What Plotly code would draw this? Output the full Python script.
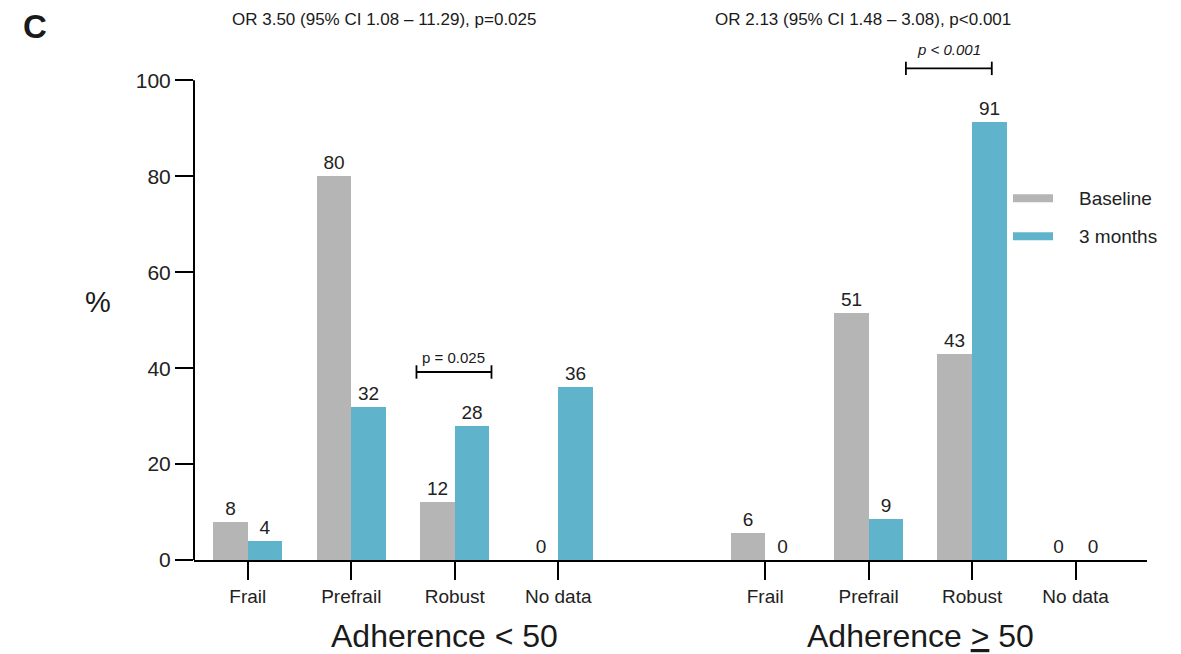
import plotly.graph_objects as go

# ---- data ----
categories = ["Frail", "Prefrail", "Robust", "No data"]
cat_pos_low = [0, 1, 2, 3]
cat_pos_high = [5, 6, 7, 8]
baseline_low = [8, 80, 12, 0]
months3_low = [4, 32, 28, 36]
baseline_high = [5.7, 51.4, 42.9, 0]
months3_high = [0, 8.6, 91.4, 0]
series_names = ["Baseline", "3 months"]
group_labels = ["Adherence < 50", "Adherence <u>&gt;</u> 50"]
or_labels = ["OR 3.50 (95% CI 1.08 \u2013 11.29), p=0.025",
             "OR 2.13 (95% CI 1.48 \u2013 3.08), p<0.001"]
p_labels = ["p = 0.025", "<i>p < 0.001</i>"]

GRAY = "#B5B5B5"
BLUE = "#5FB4CC"
COLORS = [GRAY, BLUE]
FONT = "Liberation Sans, Arial, sans-serif"
W, H = 1181, 654
OFF = 8  # page body margin
# target plot area in page pixels: x 194..1147, y(0)=560, y(108)=41.6
L = 194 - OFF
R = W - (1147 - OFF)
B = H - (560 - OFF)
T = 560 - 108 * 4.8 - OFF
BW = 0.335

x_all = cat_pos_low + cat_pos_high
base_all = baseline_low + baseline_high
m3_all = months3_low + months3_high


def px_x(px):
    return (px - OFF - L) / (W - L - R)


def px_y(py):
    return (H - B - (py - OFF)) / (H - B - T)


fig = go.Figure()
for name, vals, sign, col in [(series_names[0], base_all, -1, GRAY),
                              (series_names[1], m3_all, 1, BLUE)]:
    fig.add_trace(go.Bar(
        name=name, x=[p + sign * BW / 2 for p in x_all], y=vals, width=BW,
        marker=dict(color=col, line=dict(width=0)),
        text=[f"{v:.0f}" for v in vals], textposition="outside", cliponaxis=False,
        textfont=dict(size=19, color="#222", family=FONT),
        showlegend=False,
    ))

shapes = [
    dict(type="line", xref="paper", yref="y", x0=0, x1=0, y0=0, y1=100,
         line=dict(color="black", width=2)),
]
brackets = [(1.63, 2.355, 39.2), (6.36, 7.19, 102.5)]
for (a, b, y) in brackets:
    shapes.append(dict(type="line", xref="x", yref="y", x0=a, x1=b, y0=y, y1=y,
                       line=dict(color="black", width=1.8)))
    for xx in (a, b):
        shapes.append(dict(type="line", xref="x", yref="y", x0=xx, x1=xx,
                           y0=y - 1.4, y1=y + 1.4, line=dict(color="black", width=1.8)))

# custom legend (wide swatches)
leg_rows = [198, 236]
annotations = []
for name, col, ry in zip(series_names, COLORS, leg_rows):
    shapes.append(dict(type="rect", xref="paper", yref="paper",
                       x0=px_x(1013), x1=px_x(1053), y0=px_y(ry + 4), y1=px_y(ry - 4),
                       fillcolor=col, line=dict(width=0)))
    annotations.append(dict(text=name, x=px_x(1077), y=px_y(ry), xref="paper", yref="paper",
                            xanchor="left", yanchor="middle", showarrow=False,
                            font=dict(size=19, family=FONT, color="#222")))


def ann(text, x, y, size, xref="paper", yref="paper", **kw):
    d = dict(text=text, x=x, y=y, xref=xref, yref=yref, showarrow=False,
             xanchor="center", yanchor="middle", borderpad=0,
             font=dict(size=size, family=FONT, color="#1a1a1a"))
    d.update(kw)
    return d


annotations += [
    ann("<b>C</b>", px_x(35), px_y(26), 33),
    ann(or_labels[0], px_x(384), px_y(19), 17),
    ann(or_labels[1], px_x(863), px_y(19), 17),
    ann("%", px_x(98), px_y(302), 29),
    ann(group_labels[0], 1.9, px_y(636), 32, xref="x"),
    ann(group_labels[1], 6.5, px_y(636), 32, xref="x"),
    ann(p_labels[0], 1.99, 39.2, 15, xref="x", yref="y", yanchor="bottom", yshift=5),
    ann(p_labels[1], 6.78, 102.5, 15, xref="x", yref="y", yanchor="bottom", yshift=9),
]

fig.update_layout(
    width=W, height=H,
    margin=dict(l=L, r=R, t=T, b=B, autoexpand=False),
    paper_bgcolor="white", plot_bgcolor="white",
    barmode="overlay", bargap=0,
    font=dict(family=FONT, size=16, color="#222"),
    showlegend=False,
    shapes=shapes,
    annotations=annotations,
)
fig.update_xaxes(
    range=[-0.52, 8.69], tickvals=x_all, ticktext=categories + categories,
    showline=True, linecolor="black", linewidth=2,
    ticks="outside", ticklen=18, tickwidth=2, tickcolor="black",
    showgrid=False, zeroline=False,
    tickfont=dict(size=19, family=FONT, color="#222"),
)
fig.update_yaxes(
    range=[0, 108], tickvals=[0, 20, 40, 60, 80, 100],
    showline=False, ticks="outside", ticklen=18, tickwidth=2, tickcolor="black",
    showgrid=False, zeroline=False,
    tickfont=dict(size=21, family=FONT, color="#222"),
)

fig.write_html("out.html")
